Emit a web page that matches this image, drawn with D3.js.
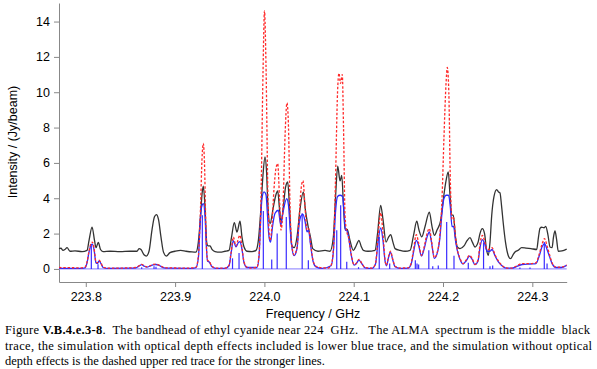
<!DOCTYPE html>
<html><head><meta charset="utf-8">
<script src="https://cdn.jsdelivr.net/npm/d3@7"></script>
<style>body{margin:0;background:#fff}svg{display:block}</style>
</head><body>
<svg id="c" width="597" height="369"></svg>
<script>
// ---- data (frequency GHz, intensity Jy/beam) ----
const xTicks = [223.8, 223.9, 224.0, 224.1, 224.2, 224.3];
const yTicks = [0, 2, 4, 6, 8, 10, 12, 14];
const xLabel = "Frequency / GHz";
const yLabel = "Intensity / (Jy/beam)";

const blackSpectrum = [
[223.7700,1.15],[223.7722,1.17],[223.7745,1.05],[223.7767,1.1],[223.7790,1.2],[223.7823,1.0],[223.7879,1.02],[223.7958,0.98],
[223.8014,1.05],[223.8036,1.6],[223.8070,2.37],[223.8098,1.6],[223.8114,1.2],[223.8140,1.5],[223.8165,1.1],[223.8193,0.98],
[223.8271,1.0],[223.8383,0.98],[223.8495,1.0],[223.8573,1.0],[223.8596,1.15],[223.8618,1.1],[223.8652,0.8],[223.8678,0.73],
[223.8708,1.0],[223.8741,2.2],[223.8769,2.95],[223.8790,3.07],[223.8814,2.8],[223.8842,1.8],[223.8870,0.95],[223.8902,0.73],
[223.8943,0.92],[223.8999,1.0],[223.9063,1.05],[223.9122,1.0],[223.9189,0.96],[223.9234,0.95],[223.9260,1.5],[223.9285,3.0],
[223.9301,4.2],[223.9316,4.68],[223.9335,3.5],[223.9354,1.5],[223.9369,1.3],[223.9391,1.3],[223.9413,1.1],[223.9447,0.98],
[223.9503,0.95],[223.9559,1.0],[223.9604,1.05],[223.9632,1.8],[223.9663,2.62],[223.9693,2.09],[223.9727,2.7],[223.9749,1.8],
[223.9772,1.24],[223.9805,1.0],[223.9861,0.98],[223.9906,1.05],[223.9932,1.6],[223.9962,3.5],[223.9984,5.3],[224.0007,6.34],
[224.0024,5.5],[224.0040,3.5],[224.0063,2.57],[224.0100,3.5],[224.0124,4.1],[224.0149,4.41],[224.0169,3.4],[224.0186,2.66],
[224.0214,3.6],[224.0236,4.6],[224.0261,4.92],[224.0281,3.5],[224.0306,1.34],[224.0332,1.2],[224.0365,1.8],[224.0399,3.4],
[224.0436,4.36],[224.0460,3.3],[224.0492,2.34],[224.0516,1.8],[224.0541,1.15],[224.0600,1.0],[224.0679,1.05],[224.0735,1.0],
[224.0772,1.8],[224.0796,4.0],[224.0821,5.81],[224.0847,4.98],[224.0866,5.3],[224.0886,3.5],[224.0903,2.28],[224.0928,2.23],
[224.0959,1.6],[224.0996,1.05],[224.1026,1.3],[224.1059,1.62],[224.1082,1.3],[224.1108,1.05],[224.1160,1.0],[224.1239,1.05],
[224.1267,2.0],[224.1302,3.6],[224.1328,2.8],[224.1362,1.52],[224.1390,1.8],[224.1414,1.94],[224.1440,1.5],[224.1463,1.15],
[224.1519,1.05],[224.1575,1.0],[224.1631,1.05],[224.1670,1.9],[224.1706,2.7],[224.1731,2.2],[224.1762,1.81],[224.1799,2.4],
[224.1847,3.22],[224.1877,2.4],[224.1903,1.9],[224.1933,2.2],[224.1974,2.75],[224.2000,3.8],[224.2034,5.0],[224.2059,5.49],
[224.2078,4.2],[224.2097,3.04],[224.2115,3.04],[224.2140,1.8],[224.2160,1.24],[224.2190,1.15],[224.2235,1.3],[224.2269,1.6],
[224.2302,1.77],[224.2330,1.5],[224.2358,1.24],[224.2392,1.5],[224.2414,2.0],[224.2440,2.28],[224.2465,2.0],[224.2487,1.1],
[224.2507,0.77],[224.2526,1.5],[224.2545,3.0],[224.2571,4.1],[224.2601,4.49],[224.2622,4.35],[224.2638,4.3],[224.2655,3.6],
[224.2675,2.57],[224.2700,1.5],[224.2731,0.75],[224.2756,0.58],[224.2784,0.8],[224.2806,0.96],[224.2840,1.05],[224.2881,1.2],
[224.2929,1.18],[224.2985,1.15],[224.3049,1.1],[224.3069,1.8],[224.3086,2.3],[224.3105,2.36],[224.3131,2.33],[224.3150,2.41],
[224.3176,1.9],[224.3198,1.24],[224.3221,1.2],[224.3237,1.8],[224.3254,2.15],[224.3271,1.7],[224.3291,1.0],[224.3332,1.02],
[224.3385,1.12]
];

const redSpectrum = [
[223.7700,0.08],[223.7823,0.07],[223.7935,0.06],[223.7991,0.1],[223.8014,0.4],[223.8036,1.0],[223.8058,1.45],[223.8073,1.52],
[223.8092,1.2],[223.8114,0.4],[223.8131,0.35],[223.8148,0.49],[223.8170,0.35],[223.8193,0.1],[223.8249,0.05],[223.8383,0.05],
[223.8495,0.06],[223.8562,0.08],[223.8596,0.18],[223.8626,0.26],[223.8652,0.18],[223.8685,0.12],[223.8719,0.18],[223.8753,0.25],
[223.8786,0.27],[223.8820,0.22],[223.8865,0.1],[223.8921,0.06],[223.9055,0.05],[223.9167,0.05],[223.9234,0.1],[223.9262,0.8],
[223.9285,3.5],[223.9301,6.2],[223.9316,7.1],[223.9329,6.0],[223.9346,2.0],[223.9363,0.5],[223.9385,0.4],[223.9413,0.15],
[223.9458,0.05],[223.9559,0.04],[223.9604,0.2],[223.9626,0.9],[223.9652,1.8],[223.9682,1.3],[223.9710,1.75],[223.9727,1.9],
[223.9749,1.2],[223.9772,0.4],[223.9805,0.1],[223.9861,0.05],[223.9917,0.1],[223.9940,0.8],[223.9962,4.0],[223.9984,11.0],
[224.0001,14.6],[224.0018,11.5],[224.0040,4.0],[224.0063,1.62],[224.0085,2.5],[224.0107,4.5],[224.0130,5.7],[224.0149,5.96],
[224.0169,4.0],[224.0186,2.2],[224.0208,3.5],[224.0231,7.5],[224.0253,9.4],[224.0270,8.0],[224.0287,3.5],[224.0306,1.4],
[224.0332,0.8],[224.0365,1.2],[224.0388,2.8],[224.0410,4.5],[224.0432,5.0],[224.0455,3.5],[224.0477,2.2],[224.0494,2.3],
[224.0516,1.5],[224.0544,0.5],[224.0578,0.15],[224.0645,0.06],[224.0712,0.05],[224.0746,0.2],[224.0774,1.2],[224.0796,5.0],
[224.0819,10.0],[224.0835,11.07],[224.0852,10.5],[224.0872,11.0],[224.0886,8.0],[224.0903,3.0],[224.0922,2.1],[224.0942,1.8],
[224.0970,0.9],[224.1003,0.25],[224.1026,0.3],[224.1059,0.54],[224.1093,0.3],[224.1127,0.08],[224.1205,0.05],[224.1244,0.3],
[224.1272,1.8],[224.1302,3.17],[224.1328,2.0],[224.1351,0.5],[224.1367,0.2],[224.1390,0.7],[224.1412,1.0],[224.1435,0.6],
[224.1463,0.15],[224.1519,0.05],[224.1608,0.06],[224.1642,0.3],[224.1670,1.1],[224.1701,1.94],[224.1726,1.5],[224.1759,0.77],
[224.1787,1.2],[224.1821,2.0],[224.1847,2.28],[224.1871,1.6],[224.1903,0.64],[224.1933,0.9],[224.1966,2.0],[224.1989,4.0],
[224.2011,7.5],[224.2034,10.5],[224.2048,11.4],[224.2065,10.0],[224.2082,5.0],[224.2101,2.8],[224.2118,2.9],[224.2140,1.8],
[224.2160,1.1],[224.2190,0.6],[224.2224,0.3],[224.2258,0.5],[224.2297,0.77],[224.2325,0.6],[224.2358,0.26],[224.2392,0.5],
[224.2414,1.4],[224.2440,1.9],[224.2465,1.6],[224.2493,1.1],[224.2526,1.1],[224.2549,1.2],[224.2582,0.8],[224.2627,0.4],
[224.2672,0.15],[224.2717,0.05],[224.2773,0.05],[224.2817,0.15],[224.2885,0.3],[224.2974,0.3],[224.3041,0.35],[224.3075,0.8],
[224.3109,1.4],[224.3137,1.72],[224.3165,1.3],[224.3193,0.8],[224.3221,0.35],[224.3265,0.1],[224.3321,0.1],[224.3385,0.22]
];

const blueSpectrum = [
[223.7700,0.03],[223.7935,0.03],[223.7991,0.06],[223.8014,0.35],[223.8036,0.95],[223.8058,1.35],[223.8073,1.4],[223.8092,1.1],
[223.8114,0.35],[223.8131,0.3],[223.8148,0.45],[223.8170,0.3],[223.8193,0.08],[223.8249,0.03],[223.8495,0.04],[223.8562,0.06],
[223.8596,0.16],[223.8626,0.24],[223.8652,0.16],[223.8685,0.1],[223.8719,0.16],[223.8753,0.23],[223.8786,0.25],[223.8820,0.2],
[223.8865,0.08],[223.8921,0.04],[223.9167,0.03],[223.9234,0.08],[223.9262,0.7],[223.9279,2.5],[223.9296,3.5],[223.9316,3.7],
[223.9335,3.0],[223.9351,1.2],[223.9363,0.45],[223.9385,0.38],[223.9413,0.12],[223.9458,0.03],[223.9559,0.03],[223.9604,0.18],
[223.9626,0.85],[223.9652,1.6],[223.9682,1.25],[223.9710,1.5],[223.9727,1.55],[223.9749,1.1],[223.9772,0.35],[223.9805,0.08],
[223.9917,0.08],[223.9940,0.7],[223.9956,2.5],[223.9973,4.0],[223.9996,4.36],[224.0018,4.2],[224.0035,3.0],[224.0052,1.8],
[224.0069,1.52],[224.0091,2.4],[224.0119,3.15],[224.0156,3.32],[224.0183,2.47],[224.0208,3.2],[224.0250,3.98],[224.0270,3.6],
[224.0287,2.37],[224.0306,1.3],[224.0332,0.75],[224.0365,1.15],[224.0388,2.5],[224.0410,3.0],[224.0432,3.09],[224.0455,2.7],
[224.0477,2.1],[224.0494,2.2],[224.0516,1.4],[224.0544,0.45],[224.0578,0.12],[224.0645,0.03],[224.0746,0.18],[224.0774,1.1],
[224.0796,3.2],[224.0819,4.1],[224.0847,4.17],[224.0875,4.1],[224.0892,3.2],[224.0908,2.2],[224.0925,2.15],[224.0942,1.8],
[224.0970,0.85],[224.1003,0.22],[224.1026,0.28],[224.1059,0.5],[224.1093,0.28],[224.1127,0.06],[224.1205,0.03],[224.1244,0.28],
[224.1272,1.5],[224.1302,2.32],[224.1328,1.6],[224.1351,0.45],[224.1367,0.18],[224.1390,0.65],[224.1412,0.95],[224.1435,0.55],
[224.1463,0.12],[224.1519,0.03],[224.1608,0.04],[224.1642,0.25],[224.1670,0.95],[224.1701,1.62],[224.1726,1.35],[224.1759,0.72],
[224.1787,1.1],[224.1821,1.8],[224.1847,2.09],[224.1871,1.5],[224.1903,0.6],[224.1933,0.85],[224.1966,1.8],[224.1989,3.2],
[224.2011,4.0],[224.2034,4.17],[224.2062,4.17],[224.2082,3.5],[224.2101,2.4],[224.2118,2.4],[224.2140,1.6],[224.2160,1.05],
[224.2190,0.55],[224.2224,0.28],[224.2258,0.45],[224.2297,0.72],[224.2325,0.55],[224.2358,0.24],[224.2392,0.45],[224.2414,1.2],
[224.2440,1.66],[224.2465,1.45],[224.2493,1.0],[224.2526,1.0],[224.2549,1.1],[224.2582,0.75],[224.2627,0.35],[224.2672,0.12],
[224.2717,0.04],[224.2773,0.04],[224.2817,0.12],[224.2885,0.25],[224.2974,0.28],[224.3041,0.3],[224.3075,0.7],[224.3109,1.25],
[224.3137,1.43],[224.3165,1.1],[224.3193,0.7],[224.3221,0.3],[224.3265,0.08],[224.3321,0.08],[224.3385,0.2]
];

const sticks = [
[223.8062,1.34],[223.8137,0.26],[223.8626,0.1],[223.8764,0.15],[223.8786,0.12],[223.9305,3.04],[223.9643,0.6],[223.9716,0.9],
[223.9988,3.28],[224.0082,0.54],[224.0143,2.0],[224.0245,2.94],[224.0423,3.15],[224.0492,0.49],[224.0810,2.19],[224.0854,3.6],
[224.0922,0.4],[224.1054,0.1],[224.1286,1.81],[224.1403,0.3],[224.1690,0.49],[224.1709,0.3],[224.1727,0.25],[224.1841,1.05],
[224.1885,0.15],[224.1947,0.2],[224.2041,2.66],[224.2123,0.75],[224.2283,0.35],[224.2454,1.5],[224.2526,0.15],[224.2556,0.2],
[224.2861,0.08],[224.2974,0.08],[224.3134,1.52],[224.3165,0.3]
];

const caption = [
  {pre:"Figure ", bold:"V.B.4.e.3-8", post:".  The bandhead of ethyl cyanide near 224  GHz.   The ALMA  spectrum is the middle  black", w:585},
  {pre:"trace, the simulation with optical depth effects included is lower blue trace, and the simulation without optical", bold:"", post:"", w:587},
  {pre:"depth effects is the dashed upper red trace for the stronger lines.", bold:"", post:"", w:null}
];

// ---- drawing ----
const svg = d3.select("#c");
const x = d3.scaleLinear().domain([223.770, 224.3385]).range([59, 566.7]);
const y = d3.scaleLinear().domain([-0.74, 15.05]).range([282, 3]);

const axisColor = "#888";
const gx = svg.append("g").attr("transform","translate(0,282)")
  .call(d3.axisBottom(x).tickValues(xTicks).tickFormat(d3.format(".1f")).tickSize(5).tickSizeOuter(0));
const gy = svg.append("g").attr("transform","translate(59,0)")
  .call(d3.axisLeft(y).tickValues(yTicks).tickFormat(d3.format("d")).tickSize(5).tickSizeOuter(0));
[gx, gy].forEach(g => {
  g.select(".domain").attr("stroke", axisColor).attr("stroke-width", 1);
  g.selectAll(".tick line").attr("stroke", axisColor);
  g.selectAll(".tick text").attr("fill","#000").attr("font-family","'Liberation Sans', Arial, sans-serif").attr("font-size","12.5px");
});
gx.selectAll(".tick text").attr("dy","0.95em").attr("y", 7);
gy.selectAll(".tick text").attr("x", -9);

svg.append("text").attr("x", 313).attr("y", 318).attr("text-anchor","middle")
  .attr("font-family","'Liberation Sans', Arial, sans-serif").attr("font-size","12.5px").text(xLabel);
svg.append("text").attr("transform","translate(17,142) rotate(-90)").attr("text-anchor","middle")
  .attr("font-family","'Liberation Sans', Arial, sans-serif").attr("font-size","12.5px").text(yLabel);

const plot = svg.append("g");
const line = d3.line().x(d => x(d[0])).y(d => y(d[1])).curve(d3.curveMonotoneX);

// zero baseline of the stick spectrum
plot.append("path").attr("d", d3.line().x(d=>x(d[0])).y(d=>y(d[1]))([[x.domain()[0],0],[x.domain()[1],0]]))
  .attr("fill","none").attr("stroke","#9d94ff").attr("stroke-width",1.2);
// sticks
plot.append("g").selectAll("line").data(sticks).join("line")
  .attr("x1", d => x(d[0])).attr("x2", d => x(d[0]))
  .attr("y1", y(0)).attr("y2", d => y(d[1]))
  .attr("stroke","#3a2cff").attr("stroke-width",1.2);

plot.append("path").datum(blackSpectrum).attr("d", line)
  .attr("fill","none").attr("stroke","#333").attr("stroke-width",1.3);
plot.append("path").datum(blueSpectrum).attr("d", line)
  .attr("fill","none").attr("stroke","#2a2aff").attr("stroke-width",1.3);
plot.append("path").datum(redSpectrum).attr("d", line)
  .attr("fill","none").attr("stroke","#ff2a2a").attr("stroke-width",1.3).attr("stroke-dasharray","2.5,1.8");

// caption
const cap = svg.append("g").attr("font-family","'Liberation Serif','Times New Roman',serif").attr("font-size","12.5px").attr("fill","#000");
caption.forEach((c,i) => {
  const t = cap.append("text").attr("x",5).attr("y",334 + i*15.5).style("white-space","pre");
  if (c.w) t.attr("textLength", c.w).attr("lengthAdjust","spacing");
  t.append("tspan").text(c.pre);
  if (c.bold) t.append("tspan").attr("font-weight","bold").text(c.bold);
  if (c.post) t.append("tspan").text(c.post);
});
</script>
</body></html>
